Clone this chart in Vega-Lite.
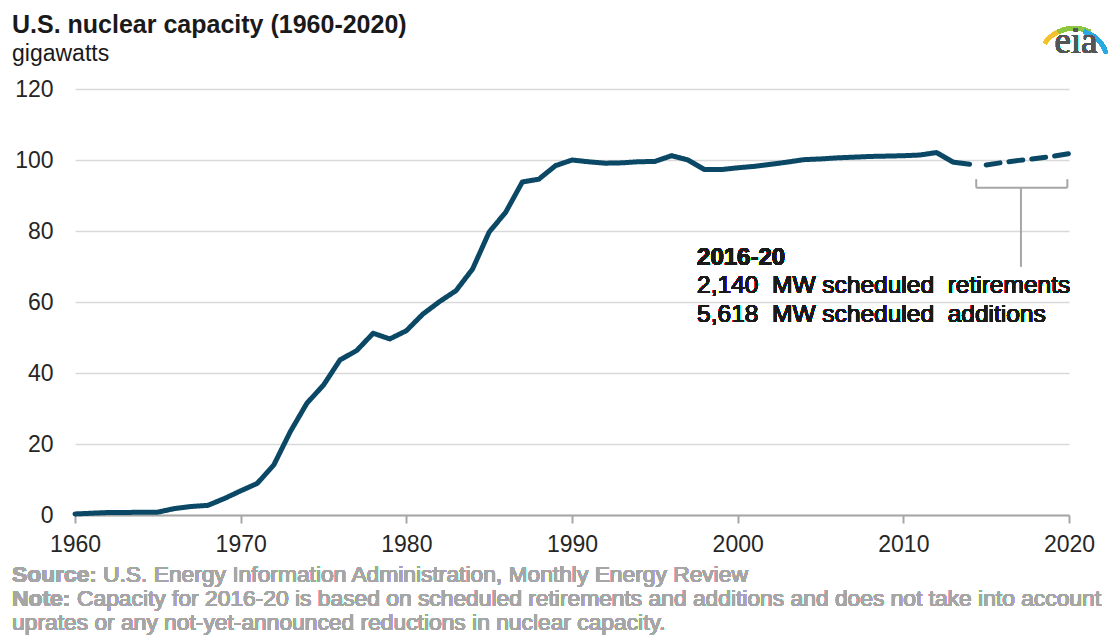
{
  "$schema": "https://vega.github.io/schema/vega-lite/v6.json",
  "width": 994,
  "height": 426,
  "autosize": "none",
  "padding": {"left": 75, "top": 89, "right": 39, "bottom": 124},
  "background": "white",
  "config": {"font": "Liberation Sans", "view": {"stroke": null}},
  "title": {
    "text": "U.S. nuclear capacity (1960-2020)",
    "subtitle": "gigawatts",
    "anchor": "start",
    "frame": "group",
    "dx": -63,
    "dy": 57,
    "offset": 14,
    "font": "Liberation Sans",
    "fontSize": 25,
    "fontWeight": "bold",
    "color": "#1a1a1a",
    "subtitleFont": "Liberation Sans",
    "subtitleFontSize": 23,
    "subtitleColor": "#1a1a1a",
    "subtitlePadding": 5
  },
  "data": {
    "values": [
      {"year": 1960, "gw": 0.3, "series": "Historical"},
      {"year": 1961, "gw": 0.5, "series": "Historical"},
      {"year": 1962, "gw": 0.7, "series": "Historical"},
      {"year": 1963, "gw": 0.7, "series": "Historical"},
      {"year": 1964, "gw": 0.8, "series": "Historical"},
      {"year": 1965, "gw": 0.8, "series": "Historical"},
      {"year": 1966, "gw": 1.8, "series": "Historical"},
      {"year": 1967, "gw": 2.4, "series": "Historical"},
      {"year": 1968, "gw": 2.7, "series": "Historical"},
      {"year": 1969, "gw": 4.6, "series": "Historical"},
      {"year": 1970, "gw": 6.8, "series": "Historical"},
      {"year": 1971, "gw": 8.9, "series": "Historical"},
      {"year": 1972, "gw": 14.1, "series": "Historical"},
      {"year": 1973, "gw": 23.5, "series": "Historical"},
      {"year": 1974, "gw": 31.5, "series": "Historical"},
      {"year": 1975, "gw": 36.6, "series": "Historical"},
      {"year": 1976, "gw": 43.7, "series": "Historical"},
      {"year": 1977, "gw": 46.3, "series": "Historical"},
      {"year": 1978, "gw": 51.2, "series": "Historical"},
      {"year": 1979, "gw": 49.6, "series": "Historical"},
      {"year": 1980, "gw": 51.9, "series": "Historical"},
      {"year": 1981, "gw": 56.6, "series": "Historical"},
      {"year": 1982, "gw": 60.1, "series": "Historical"},
      {"year": 1983, "gw": 63.2, "series": "Historical"},
      {"year": 1984, "gw": 69.3, "series": "Historical"},
      {"year": 1985, "gw": 79.7, "series": "Historical"},
      {"year": 1986, "gw": 85.3, "series": "Historical"},
      {"year": 1987, "gw": 93.8, "series": "Historical"},
      {"year": 1988, "gw": 94.6, "series": "Historical"},
      {"year": 1989, "gw": 98.4, "series": "Historical"},
      {"year": 1990, "gw": 100.0, "series": "Historical"},
      {"year": 1991, "gw": 99.5, "series": "Historical"},
      {"year": 1992, "gw": 99.1, "series": "Historical"},
      {"year": 1993, "gw": 99.2, "series": "Historical"},
      {"year": 1994, "gw": 99.5, "series": "Historical"},
      {"year": 1995, "gw": 99.6, "series": "Historical"},
      {"year": 1996, "gw": 101.2, "series": "Historical"},
      {"year": 1997, "gw": 100.0, "series": "Historical"},
      {"year": 1998, "gw": 97.3, "series": "Historical"},
      {"year": 1999, "gw": 97.3, "series": "Historical"},
      {"year": 2000, "gw": 97.8, "series": "Historical"},
      {"year": 2001, "gw": 98.2, "series": "Historical"},
      {"year": 2002, "gw": 98.8, "series": "Historical"},
      {"year": 2003, "gw": 99.4, "series": "Historical"},
      {"year": 2004, "gw": 100.1, "series": "Historical"},
      {"year": 2005, "gw": 100.3, "series": "Historical"},
      {"year": 2006, "gw": 100.6, "series": "Historical"},
      {"year": 2007, "gw": 100.8, "series": "Historical"},
      {"year": 2008, "gw": 101.0, "series": "Historical"},
      {"year": 2009, "gw": 101.1, "series": "Historical"},
      {"year": 2010, "gw": 101.2, "series": "Historical"},
      {"year": 2011, "gw": 101.4, "series": "Historical"},
      {"year": 2012, "gw": 102.1, "series": "Historical"},
      {"year": 2013, "gw": 99.4, "series": "Historical"},
      {"year": 2014, "gw": 98.8, "series": "Historical"},
      {"year": 2015, "gw": 98.6, "series": "Scheduled"},
      {"year": 2016, "gw": 99.3, "series": "Scheduled"},
      {"year": 2017, "gw": 99.9, "series": "Scheduled"},
      {"year": 2018, "gw": 100.4, "series": "Scheduled"},
      {"year": 2019, "gw": 101.0, "series": "Scheduled"},
      {"year": 2020, "gw": 101.8, "series": "Scheduled"}
    ]
  },
  "layer": [
    {
      "mark": {"type": "line", "color": "#0b4866", "strokeWidth": 5, "strokeJoin": "round", "strokeCap": "round"},
      "encoding": {
        "x": {
          "field": "year", "type": "quantitative",
          "scale": {"domain": [1960, 2020], "nice": false, "zero": false},
          "axis": {
            "values": [1960, 1970, 1980, 1990, 2000, 2010, 2020],
            "format": "d", "title": null, "grid": false,
            "domainColor": "#a6a6a6", "domainWidth": 2,
            "tickColor": "#a6a6a6", "tickWidth": 2, "tickSize": 8,
            "labelFont": "Liberation Sans", "labelFontSize": 23, "labelColor": "#262626",
            "labelPadding": 10, "labelFlush": false, "labelOverlap": false
          }
        },
        "y": {
          "field": "gw", "type": "quantitative",
          "scale": {"domain": [0, 120], "nice": false},
          "axis": {
            "values": [0, 20, 40, 60, 80, 100, 120],
            "title": null, "domain": false, "ticks": false, "tickSize": 0,
            "gridColor": "#d9d9d9", "gridWidth": 1.5,
            "labelFont": "Liberation Sans", "labelFontSize": 23, "labelColor": "#262626",
            "labelPadding": 22
          }
        },
        "strokeDash": {
          "field": "series", "type": "nominal",
          "scale": {"domain": ["Historical", "Scheduled"], "range": [[1, 0], [14, 9]]},
          "legend": null
        }
      }
    },
    {
      "data": {
        "values": [
          {"x": 2014.4, "x2": 2019.9, "y": 92.2, "y2": 92.2},
          {"x": 2014.4, "x2": 2014.4, "y": 92.2, "y2": 94.6},
          {"x": 2019.9, "x2": 2019.9, "y": 92.2, "y2": 94.6},
          {"x": 2017.1, "x2": 2017.1, "y": 92.2, "y2": 69.9}
        ]
      },
      "mark": {"type": "rule", "color": "#a6a6a6", "strokeWidth": 2},
      "encoding": {
        "x": {"field": "x", "type": "quantitative"},
        "x2": {"field": "x2"},
        "y": {"field": "y", "type": "quantitative"},
        "y2": {"field": "y2"}
      }
    },
    {
      "mark": {"type": "text", "align": "left", "baseline": "middle", "fontSize": 24, "fontWeight": "bold", "color": "#1a1a1a", "font": "Liberation Sans"},
      "encoding": {"text": {"value": "2016-20"}, "x": {"datum": 1997.55}, "y": {"datum": 72.5}}
    },
    {
      "mark": {"type": "text", "align": "left", "baseline": "middle", "fontSize": 24.5, "color": "#1a1a1a", "font": "Liberation Sans"},
      "encoding": {"text": {"value": "2,140\u00a0 MW scheduled\u00a0 retirements"}, "x": {"datum": 1997.55}, "y": {"datum": 64.5}}
    },
    {
      "mark": {"type": "text", "align": "left", "baseline": "middle", "fontSize": 24.5, "color": "#1a1a1a", "font": "Liberation Sans"},
      "encoding": {"text": {"value": "5,618\u00a0 MW scheduled\u00a0 additions"}, "x": {"datum": 1997.55}, "y": {"datum": 56.3}}
    },
    {
      "mark": {"type": "text", "align": "left", "baseline": "middle", "fontSize": 22.8, "fontWeight": "bold", "color": "#a6a6a6", "font": "Liberation Sans"},
      "encoding": {"text": {"value": "Source:"}, "x": {"datum": 1956.2}, "y": {"datum": -16.9}}
    },
    {
      "mark": {"type": "text", "align": "left", "baseline": "middle", "fontSize": 22.8, "color": "#a6a6a6", "font": "Liberation Sans", "dx": 91},
      "encoding": {"text": {"value": "U.S. Energy Information Administration, Monthly Energy Review"}, "x": {"datum": 1956.2}, "y": {"datum": -16.9}}
    },
    {
      "mark": {"type": "text", "align": "left", "baseline": "middle", "fontSize": 22.8, "fontWeight": "bold", "color": "#a6a6a6", "font": "Liberation Sans"},
      "encoding": {"text": {"value": "Note:"}, "x": {"datum": 1956.2}, "y": {"datum": -23.7}}
    },
    {
      "mark": {"type": "text", "align": "left", "baseline": "middle", "fontSize": 22.8, "color": "#a6a6a6", "font": "Liberation Sans", "dx": 65},
      "encoding": {"text": {"value": "Capacity for 2016-20 is based on scheduled retirements and additions and does not take into account"}, "x": {"datum": 1956.2}, "y": {"datum": -23.7}}
    },
    {
      "mark": {"type": "text", "align": "left", "baseline": "middle", "fontSize": 22.8, "color": "#a6a6a6", "font": "Liberation Sans"},
      "encoding": {"text": {"value": "uprates or any not-yet-announced reductions in nuclear capacity."}, "x": {"datum": 1956.2}, "y": {"datum": -30.4}}
    },
    {
      "mark": {"type": "arc", "radius": 38, "radius2": 34, "theta": -0.95, "theta2": -0.4, "color": "#f2c12e"},
      "encoding": {"x": {"datum": 2020.3}, "y": {"datum": 127.0}}
    },
    {
      "mark": {"type": "arc", "radius": 38, "radius2": 34, "theta": -0.45, "theta2": 0.45, "color": "#8dc63f"},
      "encoding": {"x": {"datum": 2020.3}, "y": {"datum": 127.0}}
    },
    {
      "mark": {"type": "arc", "radius": 36, "radius2": 32, "theta": 0.3, "theta2": 1.25, "color": "#29a9e0"},
      "encoding": {"x": {"datum": 2020.3}, "y": {"datum": 127.0}}
    },
    {
      "mark": {"type": "text", "align": "center", "baseline": "alphabetic", "fontSize": 37, "color": "#555555", "font": "Liberation Serif"},
      "encoding": {"text": {"value": "eia"}, "x": {"datum": 2020.42}, "y": {"datum": 130.1}}
    }
  ]
}
